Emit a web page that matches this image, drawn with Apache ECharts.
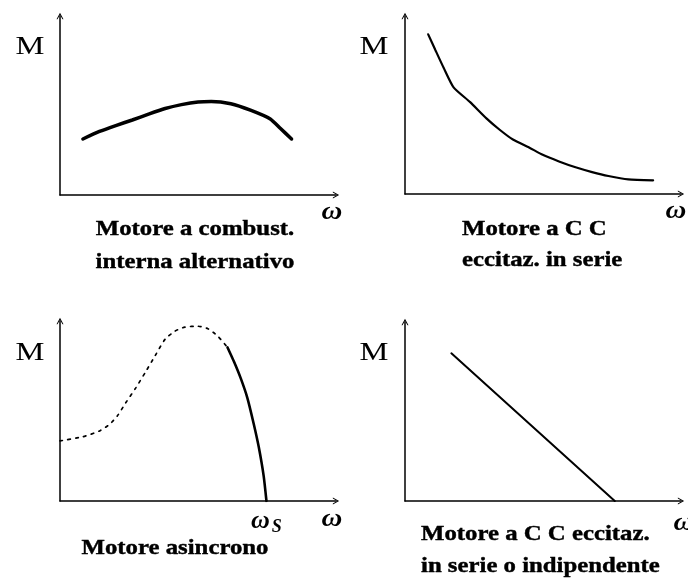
<!DOCTYPE html>
<html>
<head>
<meta charset="utf-8">
<script src="https://cdn.jsdelivr.net/npm/echarts@6/dist/echarts.min.js"></script>
<style>
  html, body { margin: 0; padding: 0; background: #fff; }
  #chart { width: 688px; height: 578px; }
</style>
</head>
<body>
<div id="chart"></div>
<script>
// Torque (M) versus angular speed (ω) for four kinds of motor, in relative units 0–100.

// Internal-combustion reciprocating engine
const omegaIce  = [8.3, 14.3, 20.2, 26.2, 32.1, 38.1, 44.0, 50.0, 54.8, 61.9, 69.0, 76.2, 79.8, 83.9];
const torqueIce = [31.3, 35.5, 38.8, 41.9, 45.2, 48.3, 50.5, 52.0, 52.3, 51.0, 47.4, 42.5, 37.3, 31.3];

// DC motor, series excitation
const omegaDcSeries  = [8.4, 11.0, 14.0, 17.6, 23.6, 29.5, 34.3, 39.1, 45.1, 49.9, 55.8, 61.8, 67.8, 73.7, 80.9, 89.9];
const torqueDcSeries = [89.7, 80.9, 70.9, 59.9, 51.6, 42.5, 36.1, 30.6, 26.0, 22.0, 18.3, 15.0, 12.3, 10.1, 8.2, 7.7];

// Induction motor: unstable branch (dotted) and working branch (solid)
const omegaAsyncStart  = [0, 8.3, 14.3, 17.9, 20.8, 23.8, 27.4, 31.0, 34.5, 38.1, 41.7, 45.2, 50.0, 53.6, 57.1, 60.7];
const torqueAsyncStart = [33.4, 35.7, 38.9, 42.5, 47.3, 54.5, 62.7, 71.7, 80.8, 89.9, 94.4, 96.6, 97.1, 95.7, 91.7, 85.3];
const omegaAsyncWork   = [60.7, 63.1, 65.5, 67.9, 70.2, 72.0, 73.8, 74.8];
const torqueAsyncWork  = [85.3, 77.2, 68.1, 57.2, 42.8, 30.1, 13.8, 0];
const omegaSync = 74.8;

// DC motor, series or separate excitation (linear)
const omegaDcLinear  = [16.8, 76.0];
const torqueDcLinear = [82.5, 0];

// Text
const torqueName = 'M';
const speedName = 'ω';
const captions = [
  ['Motore a combust.', 'interna alternativo'],
  ['Motore a C C', 'eccitaz. in serie'],
  ['Motore asincrono'],
  ['Motore a C C eccitaz.', 'in serie o indipendente']
];

const pairs = (xs, ys) => xs.map((x, i) => [x, ys[i]]);

const ARROW = 'path://M5,0 L10,9 L8.6,9 L5,3 L1.4,9 L0,9 Z';

const grids = [
  { left: 60,  top: 16,  width: 276, height: 179 },
  { left: 405, top: 16,  width: 276, height: 178 },
  { left: 60,  top: 321, width: 276, height: 180 },
  { left: 405, top: 322, width: 276, height: 179 }
];

function axisLineCfg() {
  return {
    show: true,
    onZero: false,
    symbol: ['none', ARROW],
    symbolSize: [7, 8],
    lineStyle: { color: '#000', width: 1.5 }
  };
}

const xAxes = grids.map((g, i) => ({
  type: 'value', gridIndex: i, min: 0, max: 100,
  axisLine: axisLineCfg(),
  axisTick: { show: false },
  splitLine: { show: false },
  axisLabel: i === 2 ? {
    show: true,
    customValues: [omegaSync],
    margin: 5,
    formatter: () => '{w|ω}{s|S}',
    rich: {
      w: { fontFamily: 'Liberation Serif', fontWeight: 'bold', fontStyle: 'italic', fontSize: 26, color: '#000' },
      s: { fontFamily: 'Liberation Serif', fontWeight: 'bold', fontStyle: 'italic', fontSize: 18, color: '#000', padding: [12, 0, 0, 2] }
    }
  } : { show: false }
}));

const yAxes = grids.map((g, i) => ({
  type: 'value', gridIndex: i, min: 0, max: 100,
  axisLine: axisLineCfg(),
  axisTick: { show: false },
  splitLine: { show: false },
  axisLabel: { show: false }
}));

function curve(i, xs, ys, width, type) {
  return {
    type: 'line', xAxisIndex: i, yAxisIndex: i,
    data: pairs(xs, ys),
    smooth: 0.2,
    showSymbol: false,
    lineStyle: { color: '#000', width: width, type: type || 'solid', cap: 'round' },
    silent: true,
    animation: false
  };
}

const series = [
  curve(0, omegaIce, torqueIce, 3.5),
  curve(1, omegaDcSeries, torqueDcSeries, 2.2),
  curve(2, omegaAsyncStart, torqueAsyncStart, 1.7, [2.5, 5.5]),
  curve(2, omegaAsyncWork, torqueAsyncWork, 2.6),
  curve(3, omegaDcLinear, torqueDcLinear, 2)
];

// Axis names and captions, one set per panel
const letterFont = '26px "Liberation Serif"';
const omegaFont = 'italic bold 25px "Liberation Serif"';
const capFont = 'bold 21px "Liberation Serif"';

const mPos = [[30, 47], [374, 47], [30, 353], [374, 353]];
const wPos = [[332, 213], [676, 212], [332, 520], [684, 524]];
const capLines = [
  { x: 195, align: 'center', ys: [230, 263] },
  { x: 462, align: 'left',   ys: [230, 261] },
  { x: 175, align: 'center', ys: [549] },
  { x: 421, align: 'left',   ys: [535, 567] }
];

const graphic = [];
mPos.forEach(p => graphic.push({
  type: 'text', x: p[0], y: p[1], scaleX: 1.25,
  style: { text: torqueName, font: letterFont, fill: '#000', textAlign: 'center', textVerticalAlign: 'middle' }
}));
wPos.forEach(p => graphic.push({
  type: 'text', x: p[0], y: p[1], scaleX: 1.15,
  style: { text: speedName, font: omegaFont, fill: '#000', textAlign: 'center', textVerticalAlign: 'middle' }
}));
captions.forEach((lines, i) => {
  const c = capLines[i];
  lines.forEach((t, k) => graphic.push({
    type: 'text', x: c.x, y: c.ys[k], scaleX: 1.18,
    style: { text: t, font: capFont, fill: '#000', textAlign: c.align, textVerticalAlign: 'middle',
             stroke: '#000', lineWidth: 0.4 }
  }));
});

const chart = echarts.init(document.getElementById('chart'), null, { renderer: 'canvas' });
chart.setOption({
  backgroundColor: '#fff',
  animation: false,
  grid: grids,
  xAxis: xAxes,
  yAxis: yAxes,
  series: series,
  graphic: graphic
});
</script>
</body>
</html>
